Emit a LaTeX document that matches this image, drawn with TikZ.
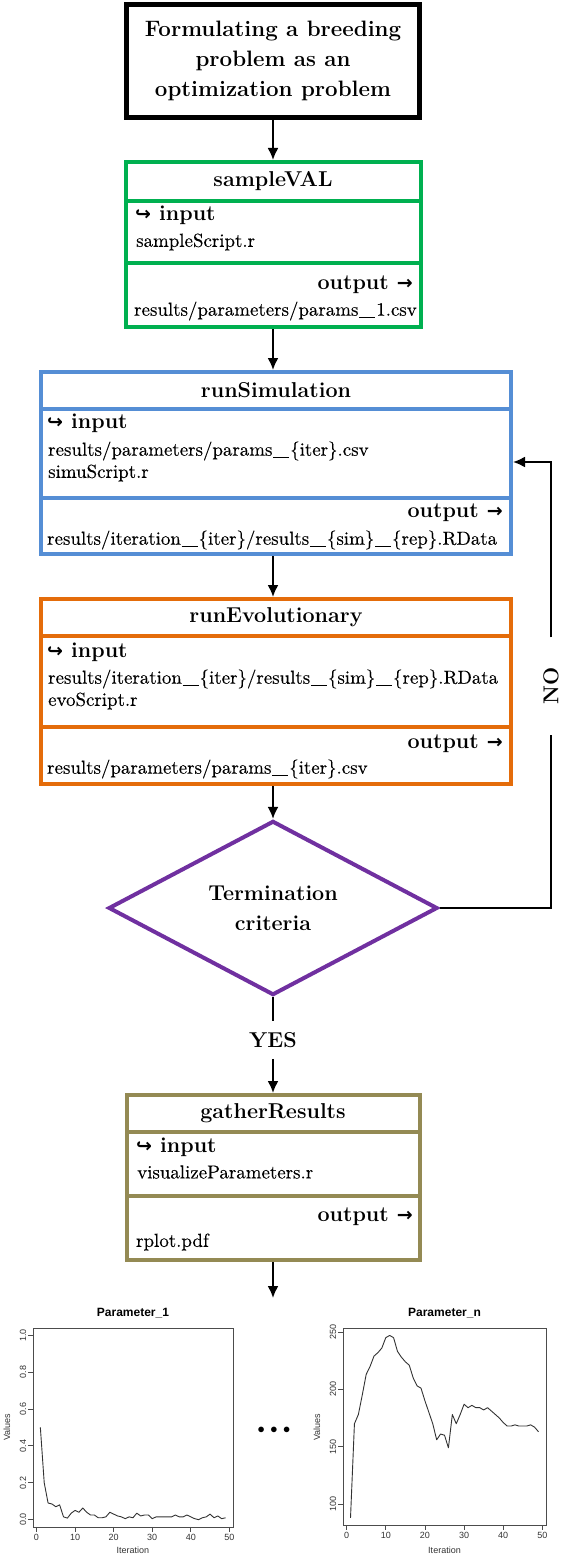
\documentclass[tikz,border=0pt]{standalone}
\usepackage{amsmath}
\usepackage{amssymb}
\usepackage{fontspec}
\usetikzlibrary{shapes.geometric,arrows.meta}
\newfontfamily\plotfont{Liberation Sans}
\newfontfamily\arrowfont{DejaVu Sans}
\newfontfamily\filefont{lmroman10-regular.otf}[FakeBold=0.25]
\definecolor{sgreen}{HTML}{00B050}
\definecolor{sblue}{HTML}{558ED5}
\definecolor{sorange}{HTML}{E46C0A}
\definecolor{spurple}{HTML}{7030A0}
\definecolor{solive}{HTML}{948A54}
\newcommand{\inarrow}{{\arrowfont\bfseries\fontsize{19}{19}\selectfont ↪}}
\newcommand{\outarrow}{{\arrowfont\bfseries\fontsize{19}{19}\selectfont →}}
\newcommand{\uscore}{\kern0.04em\rule[-0.13em]{0.86em}{0.045em}\kern0.04em}
\tikzset{
	boxpart/.style={draw=#1, line width=4pt, inner sep=0pt},
	headtext/.style={font=\fontsize{21.5}{30}\selectfont\bfseries},
	filetext/.style={font=\filefont\fontsize{18.9}{23}\selectfont, anchor=west, inner sep=0pt},
	flowarrow/.style={line width=2pt, -{Latex[length=12pt,width=11pt]}},
	plotframe/.style={draw=black!70, line width=0.8pt},
	plotline/.style={draw=black!80, line width=0.9pt, line join=round},
	ticklabel/.style={font=\plotfont\fontsize{9}{9}\selectfont, text=black!80, inner sep=0pt},
}
\begin{document}
\begin{tikzpicture}[x=1pt,y=1pt]
	\useasboundingbox (0,0) rectangle (577,-1562);
	\node (start) at (273,-61) [draw, line width=5pt, minimum width=293pt, minimum height=113pt, font=\fontsize{22.3}{30}\selectfont\bfseries, align=center] {Formulating a breeding\\problem as an\\optimization problem};
	\node (sampleHead) at (273,-181.5) [boxpart=sgreen, headtext, minimum width=295pt, minimum height=39pt] {sampleVAL};
	\node (sampleIn) at (273,-232) [boxpart=sgreen, minimum width=295pt, minimum height=62pt] {};
	\node (sampleOut) at (273,-295) [boxpart=sgreen, minimum width=295pt, minimum height=64pt] {};
		\node (sampleInLbl) at (135,-215) [headtext, anchor=west, inner sep=0pt] {\inarrow\ input};
		\node (sampleInFile) at (136,-242) [filetext] {sampleScript.r};
		\node (sampleOutLbl) at (413,-285) [headtext, anchor=east, inner sep=0pt] {output \outarrow};
		\node (sampleOutFile) at (134,-311) [filetext] {results/parameters/params\uscore1.csv};
	\node (simHead) at (276,-390.5) [boxpart=sblue, headtext, minimum width=470pt, minimum height=37pt] {runSimulation};
	\node (simIn) at (276,-453.5) [boxpart=sblue, minimum width=470pt, minimum height=89pt] {};
	\node (simOut) at (276,-526) [boxpart=sblue, minimum width=470pt, minimum height=56pt] {};
		\node (simInLbl) at (47,-423) [headtext, anchor=west, inner sep=0pt] {\inarrow\ input};
		\node (simInFile) at (48,-451) [filetext] {results/parameters/params\uscore\{iter\}.csv};
		\node (simInScript) at (48,-473) [filetext] {simuScript.r};
		\node (simOutLbl) at (503,-513) [headtext, anchor=east, inner sep=0pt] {output \outarrow};
		\node (simOutFile) at (47,-540) [filetext] {results/iteration\uscore\{iter\}/results\uscore\{sim\}\uscore\{rep\}.RData};
	\node (evoHead) at (276,-617.5) [boxpart=sorange, headtext, minimum width=470pt, minimum height=37pt] {runEvolutionary};
	\node (evoIn) at (276,-681.5) [boxpart=sorange, minimum width=470pt, minimum height=91pt] {};
	\node (evoOut) at (276,-755.5) [boxpart=sorange, minimum width=470pt, minimum height=57pt] {};
		\node (evoInLbl) at (47,-652) [headtext, anchor=west, inner sep=0pt] {\inarrow\ input};
		\node (evoInFile) at (48,-679) [filetext] {results/iteration\uscore\{iter\}/results\uscore\{sim\}\uscore\{rep\}.RData};
		\node (evoInScript) at (48,-701) [filetext] {evoScript.r};
		\node (evoOutLbl) at (503,-744) [headtext, anchor=east, inner sep=0pt] {output \outarrow};
		\node (evoOutFile) at (47,-769) [filetext] {results/parameters/params\uscore\{iter\}.csv};
	\node (check) at (273,-908) [diamond, draw=spurple, line width=4pt, minimum width=329pt, minimum height=166pt, inner sep=0pt, headtext, align=center] {Termination\\criteria};
	\node (yes) at (273,-1040) [headtext, inner ysep=11pt] {YES};
	\node (no) at (551,-686) [headtext, rotate=90, inner xsep=30pt, inner ysep=4pt] {NO};
	\coordinate (loopTurn) at (551,-908);
	\coordinate (back) at (513,-462);
	\node (gatherHead) at (273,-1113.5) [boxpart=solive, headtext, minimum width=293pt, minimum height=37pt] {gatherResults};
	\node (gatherIn) at (273,-1164) [boxpart=solive, minimum width=293pt, minimum height=64pt] {};
	\node (gatherOut) at (273,-1228) [boxpart=solive, minimum width=293pt, minimum height=64pt] {};
		\node (gatherInLbl) at (136,-1147) [headtext, anchor=west, inner sep=0pt] {\inarrow\ input};
		\node (gatherInFile) at (137,-1172) [filetext] {visualizeParameters.r};
		\node (gatherOutLbl) at (413,-1217) [headtext, anchor=east, inner sep=0pt] {output \outarrow};
		\node (gatherOutFile) at (136,-1242) [filetext] {rplot.pdf};
	\coordinate (plots) at (273,-1298);
	\node (more) at (274,-1430) [font=\fontsize{15}{15}\selectfont] {$\bullet\,\bullet\,\bullet$};
	\draw[flowarrow] (start) to (start |- sampleHead.north);
	\draw[flowarrow] (sampleOut) to (sampleOut |- simHead.north);
	\draw[flowarrow] (sampleOut |- simOut.south) to (sampleOut |- evoHead.north);
	\draw[flowarrow] (sampleOut |- evoOut.south) to (check);
	\draw[line width=2pt] (check) to (yes);
	\draw[flowarrow] (yes) to (gatherHead);
	\draw[flowarrow] (gatherOut) to (plots);
	\draw[line width=2pt] (check.east) -- (loopTurn) -- (no);
	\draw[flowarrow] (no) |- (back);
	\begin{scope}[shift={(36.5,-1519.6)}, x=3.858pt, y=184.3pt]
		\draw[plotframe] (-0.92,-0.04) rectangle (50.92,1.04);
		\foreach \i in {0,10,...,50} {
			\draw[plotframe] (\i,-0.04) -- ++(0,-5pt);
			\node (xa\i) at (\i,-0.094) [ticklabel] {\i};
		}
		\foreach \v/\t [count=\n] in {0/0.0,0.2/0.2,0.4/0.4,0.6/0.6,0.8/0.8,1/1.0} {
			\draw[plotframe] (-0.92,\v) -- ++(-5pt,0);
			\node (ya\n) at (-3.5,\v) [ticklabel, rotate=90] {\t};
		}
		\node (titleA) at (25,1.121) [ticklabel, font=\plotfont\bfseries\fontsize{12}{12}\selectfont, text=black] {Parameter\_1};
		\node (xlabA) at (25,-0.165) [ticklabel] {Iteration};
		\node (ylabA) at (-7.65,0.502) [ticklabel, rotate=90] {Values};
		\draw[plotline] plot coordinates {(1,.50) (2,.20) (3,.09) (4,.085) (5,.07) (6,.08) (7,.015) (8,.008) (9,.035) (10,.05) (11,.04) (12,.063) (13,.04) (14,.025) (15,.025) (16,.01) (17,.01) (18,.015) (19,.04) (20,.03) (21,.02) (22,.015) (23,.005) (24,.015) (25,.01) (26,.035) (27,.02) (28,.025) (29,.025) (30,.005) (31,.015) (32,.015) (33,.015) (34,.015) (35,.015) (36,.025) (37,.015) (38,.015) (39,.025) (40,.015) (41,.005) (42,0) (43,.01) (44,.015) (45,.03) (46,.01) (47,.02) (48,.005) (49,.01)};
	\end{scope}
	\begin{scope}[shift={(346.6,-1618.7)}, x=3.916pt, y=1.147pt]
		\draw[plotframe] (-0.92,81.6) rectangle (50.92,253.4);
		\foreach \i in {0,10,...,50} {
			\draw[plotframe] (\i,81.6) -- ++(0,-5pt);
			\node (xb\i) at (\i,72.9) [ticklabel] {\i};
		}
		\foreach \v in {100,150,200,250} {
			\draw[plotframe] (-0.92,\v) -- ++(-5pt,0);
			\node (yb\v) at (-3.47,\v) [ticklabel, rotate=90] {\v};
		}
		\node (titleB) at (25,266.5) [ticklabel, font=\plotfont\bfseries\fontsize{12}{12}\selectfont, text=black] {Parameter\_n};
		\node (xlabB) at (25,59.9) [ticklabel] {Iteration};
		\node (ylabB) at (-7.56,167.1) [ticklabel, rotate=90] {Values};
		\draw[plotline] plot coordinates {(1,88) (2,170) (3,178) (4,195) (5,213) (6,220) (7,229) (8,232) (9,236) (10,245) (11,247) (12,245) (13,233) (14,228) (15,224) (16,221) (17,210) (18,203) (19,201) (20,190) (21,180) (22,170) (23,156) (24,161) (25,160) (26,149) (27,178) (28,170) (29,178) (30,187) (31,184) (32,186) (33,184) (34,184) (35,182) (36,184) (37,181) (38,178) (39,175) (40,171) (41,168) (42,168) (43,169) (44,168) (45,168) (46,168) (47,169) (48,167) (49,163)};
	\end{scope}
\end{tikzpicture}
\end{document}
